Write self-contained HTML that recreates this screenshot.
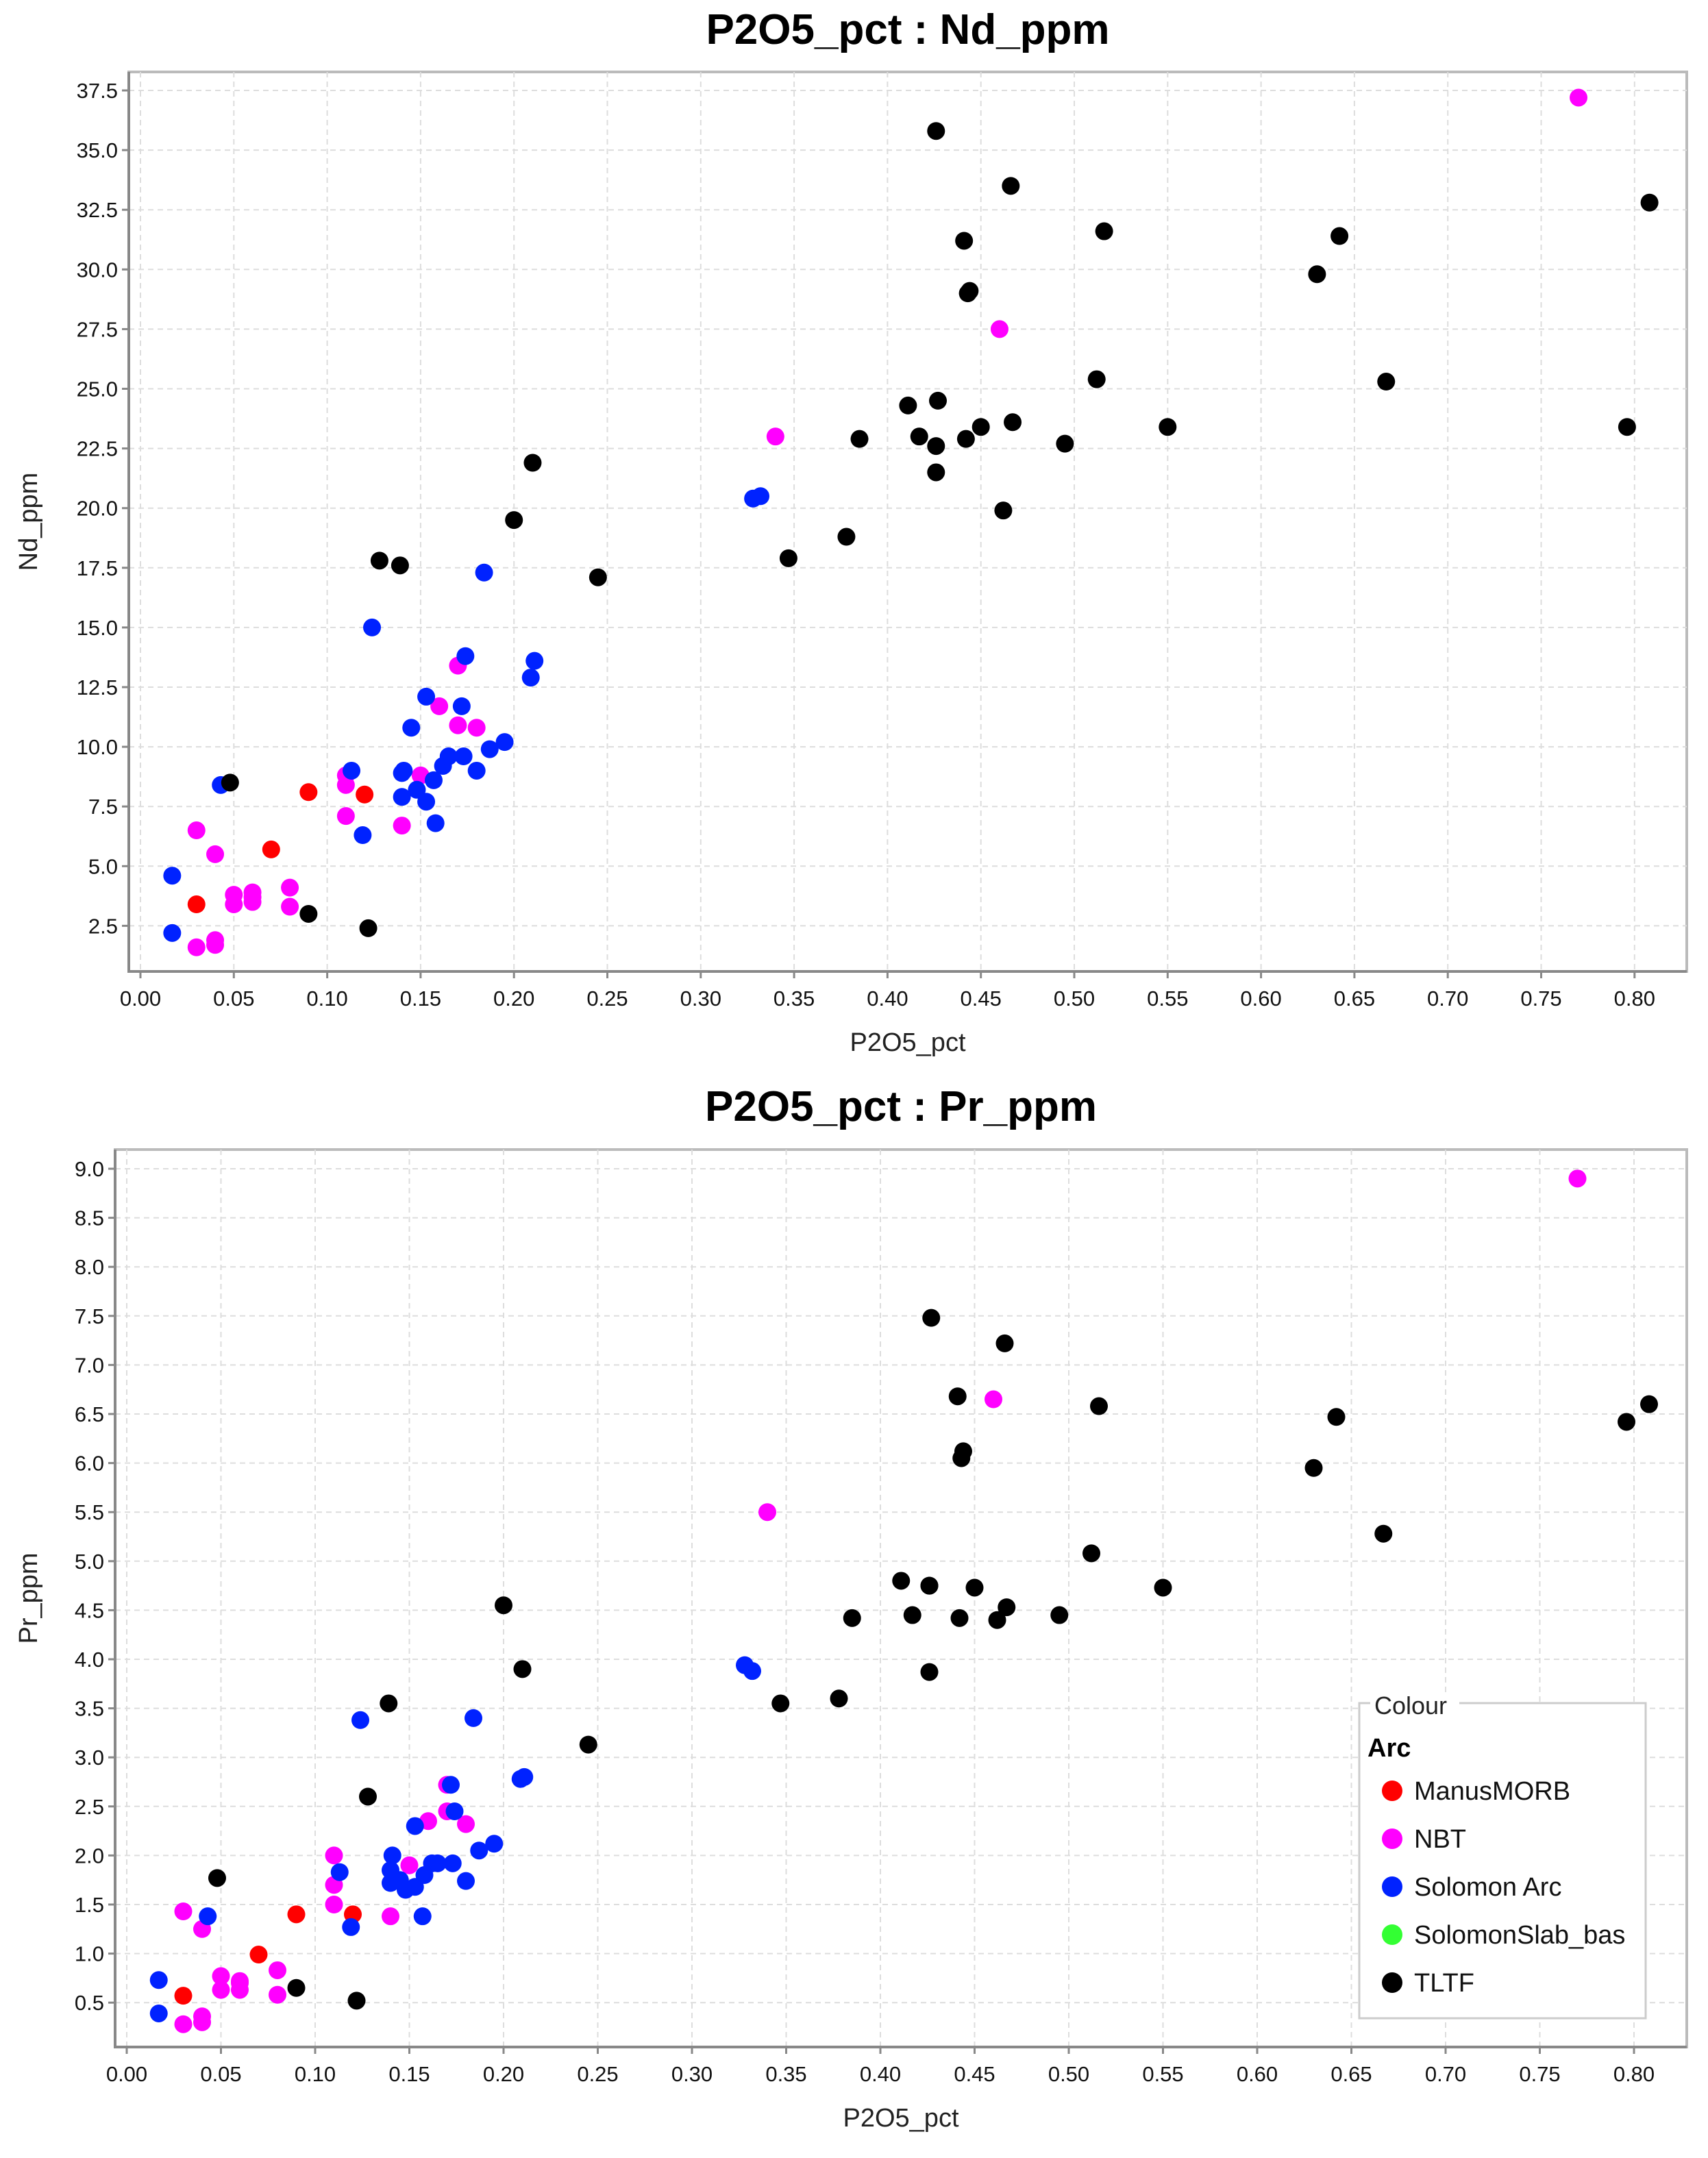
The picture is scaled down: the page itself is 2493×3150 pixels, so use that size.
<!DOCTYPE html>
<html><head><meta charset="utf-8"><style>
html,body{margin:0;padding:0;background:#fff;}
svg{display:block;font-family:"Liberation Sans",sans-serif;}
</style></head><body>
<svg id="root" width="2493" height="3150" viewBox="0 0 2493 3150">
<g id="chart1"></g>
<g id="chart2"></g>
<g id="legend">
  <rect x="1984" y="2486" width="418" height="460" fill="#fff" stroke="#ccc" stroke-width="3"/>
  <rect x="2000" y="2470" width="130" height="36" fill="#fff"/>
  <text x="2006" y="2502" font-size="36" fill="#222">Colour</text>
  <text x="1996" y="2564" font-size="38" font-weight="bold" fill="#000">Arc</text>
</g>
</svg>
<script>
var NS="http://www.w3.org/2000/svg";
var groups=["ManusMORB","NBT","Solomon Arc","SolomonSlab_bas","TLTF"];
var groupColors=["#ff0000","#ff00ff","#0022ff","#33ff33","#000000"];
var xTicks=["0.00","0.05","0.10","0.15","0.20","0.25","0.30","0.35","0.40","0.45","0.50","0.55","0.60","0.65","0.70","0.75","0.80"];
var ndTicks=["2.5","5.0","7.5","10.0","12.5","15.0","17.5","20.0","22.5","25.0","27.5","30.0","32.5","35.0","37.5"];
var prTicks=["0.5","1.0","1.5","2.0","2.5","3.0","3.5","4.0","4.5","5.0","5.5","6.0","6.5","7.0","7.5","8.0","8.5","9.0"];
// ManusMORB
var redX=[0.03,0.07,0.09,0.12];
var redNd=[3.4,5.7,8.1,8.0];
var redPr=[0.57,0.99,1.4,1.4];
// NBT
var magX=[0.77,0.46,0.34,0.17,0.16,0.17,0.18,0.15,0.14,0.11,0.11,0.11,0.08,0.08,0.06,0.06,0.05,0.05,0.04,0.03,0.03,0.04,0.04,0.06];
var magNd=[37.2,27.5,23.0,13.4,11.7,10.9,10.8,8.8,6.7,8.8,8.4,7.1,4.1,3.3,3.9,3.5,3.8,3.4,5.5,6.5,1.6,1.7,1.9,3.7];
var magPr=[8.9,6.65,5.5,2.72,2.35,2.45,2.32,1.9,1.38,2.0,1.7,1.5,0.83,0.58,0.72,0.63,0.77,0.63,1.25,1.43,0.28,0.3,0.36,0.7];
// Solomon Arc
var bluX=[0.017,0.017,0.043,0.113,0.119,0.124,0.14,0.14,0.141,0.145,0.148,0.153,0.153,0.157,0.158,0.162,0.165,0.172,0.173,0.174,0.18,0.184,0.187,0.195,0.209,0.211,0.328,0.332];
var bluNd=[4.6,2.2,8.4,9.0,6.3,15.0,7.9,8.9,9.0,10.8,8.2,7.7,12.1,8.6,6.8,9.2,9.6,11.7,9.6,13.8,9.0,17.3,9.9,10.2,12.9,13.6,20.4,20.5];
var bluPr=[0.73,0.39,1.38,1.83,1.27,3.38,1.72,1.85,2.0,1.75,1.65,1.68,2.3,1.38,1.8,1.92,1.92,2.72,1.92,2.45,1.74,3.4,2.05,2.12,2.78,2.8,3.94,3.88];
// TLTF
var blkX=[0.048,0.09,0.122,0.128,0.139,0.2,0.21,0.245,0.347,0.378,0.385,0.411,0.417,0.426,0.426,0.426,0.427,0.441,0.442,0.443,0.444,0.45,0.462,0.466,0.467,0.495,0.512,0.516,0.55,0.63,0.642,0.667,0.796,0.808];
var blkNd=[8.5,3.0,2.4,17.8,17.6,19.5,21.9,17.1,17.9,18.8,22.9,24.3,23.0,35.8,22.6,21.5,24.5,31.2,22.9,29.0,29.1,23.4,19.9,33.5,23.6,22.7,25.4,31.6,23.4,29.8,31.4,25.3,23.4,32.8];
var blkPr=[1.77,0.65,0.52,2.6,3.55,4.55,3.9,3.13,3.55,3.6,4.42,4.8,4.45,4.75,3.87,4.75,7.48,6.68,4.42,6.05,6.12,4.73,4.4,7.22,4.53,4.45,5.08,6.58,4.73,5.95,6.47,5.28,6.42,6.6];

function mk(parent,tag,attrs){var e=document.createElementNS(NS,tag);for(var k in attrs)e.setAttribute(k,attrs[k]);parent.appendChild(e);return e;}

function drawChart(g,cfg){
  var L=cfg.L,T=cfg.T,R=cfg.R,B=cfg.B;
  var sx=function(v){return cfg.x0+v/0.05*cfg.xs;};
  var sy=function(v){return cfg.yTop+(cfg.yMax-v)/cfg.yStep*cfg.ys;};
  var t=mk(g,"text",{x:(L+R)/2,y:cfg.titleY,"font-size":62,"font-weight":"bold","text-anchor":"middle",fill:"#000"});
  t.textContent=cfg.title;
  
  
  var bg=mk(g,"rect",{x:L,y:T,width:R-L,height:B-T,fill:"#fff",stroke:"#bbb","stroke-width":4});
  
  
  for(var i=0;i<xTicks.length;i++){
    var x=sx(parseFloat(xTicks[i]));
    var gl=mk(g,"line",{x1:x,y1:T,x2:x,y2:B,stroke:"#ddd","stroke-width":2,"stroke-dasharray":"8,6"});
    
    
    var tk=mk(g,"line",{x1:x,y1:B,x2:x,y2:B+10,stroke:"#888","stroke-width":3});
    
    
    var tl=mk(g,"text",{x:x,y:B+50,"font-size":31,"text-anchor":"middle",fill:"#111"});
    tl.textContent=xTicks[i];
    
    
  }
  for(var j=0;j<cfg.yTicks.length;j++){
    var y=sy(parseFloat(cfg.yTicks[j]));
    var gl2=mk(g,"line",{x1:L,y1:y,x2:R,y2:y,stroke:"#ddd","stroke-width":2,"stroke-dasharray":"8,6"});
    
    
    var tk2=mk(g,"line",{x1:L-10,y1:y,x2:L,y2:y,stroke:"#888","stroke-width":3});
    
    
    var tl2=mk(g,"text",{x:L-16,y:y+11,"font-size":31,"text-anchor":"end",fill:"#111"});
    tl2.textContent=cfg.yTicks[j];
    
    
  }
  var ax1=mk(g,"line",{x1:L,y1:T,x2:L,y2:B+2,stroke:"#888","stroke-width":4});
  
  
  var ax2=mk(g,"line",{x1:L-2,y1:B,x2:R,y2:B,stroke:"#888","stroke-width":4});
  
  
  var xl=mk(g,"text",{x:(L+R)/2,y:B+116,"font-size":38,"text-anchor":"middle",fill:"#222"});
  xl.textContent="P2O5_pct";
  
  
  var yl=mk(g,"text",{x:0,y:0,"font-size":38,"text-anchor":"middle",fill:"#222",transform:"translate(54,"+((T+B)/2)+") rotate(-90)"});
  yl.textContent=cfg.yLabel;
  
  
  var series=cfg.series;
  for(var s=0;s<series.length;s++){
    var xs=series[s][0],ys=series[s][1],col=series[s][2];
    for(var p=0;p<xs.length;p++){
      var c=mk(g,"circle",{cx:sx(xs[p]),cy:sy(ys[p]),r:13,fill:col});
      
      
    }
  }
}
drawChart(document.getElementById("chart1"),{L:188,T:105,R:2462,B:1418,x0:205,xs:136.3,yTop:132,yMax:37.5,yStep:2.5,ys:87.1,titleY:64,title:"P2O5_pct : Nd_ppm",yLabel:"Nd_ppm",yTicks:ndTicks,
 series:[[redX,redNd,groupColors[0],"manusmorb"],[magX,magNd,groupColors[1],"nbt"],[bluX,bluNd,groupColors[2],"solomon-arc"],[blkX,blkNd,groupColors[4],"tltf"]]});
drawChart(document.getElementById("chart2"),{L:168,T:1678,R:2462,B:2988,x0:185,xs:137.5,yTop:1706,yMax:9.0,yStep:0.5,ys:71.6,titleY:1636,title:"P2O5_pct : Pr_ppm",yLabel:"Pr_ppm",yTicks:prTicks,
 series:[[redX,redPr,groupColors[0],"manusmorb"],[magX,magPr,groupColors[1],"nbt"],[bluX,bluPr,groupColors[2],"solomon-arc"],[blkX,blkPr,groupColors[4],"tltf"]]});
var lg=document.getElementById("legend");
document.getElementById("root").appendChild(lg);
for(var i=0;i<groups.length;i++){
  var yy=2614+i*70;
  var c=mk(lg,"circle",{cx:2032,cy:yy,r:15,fill:groupColors[i]});
  
  
  var t=mk(lg,"text",{x:2064,y:yy+13,"font-size":38,fill:"#111"});
  t.textContent=groups[i];
  
  
}
</script>
</body></html>
